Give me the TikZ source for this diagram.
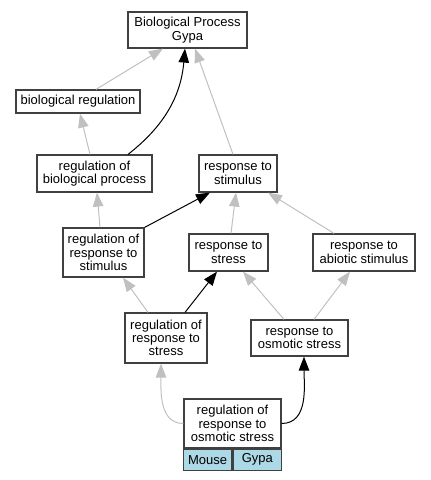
\documentclass[tikz,border=0pt]{standalone}
\usepackage{fontspec}
\setmainfont{Liberation Sans}
\usetikzlibrary{arrows.meta}
\definecolor{boxline}{HTML}{404040}
\definecolor{isagray}{HTML}{C0C0C0}
\definecolor{geneblue}{HTML}{ADD8E6}
\begin{document}
\begin{tikzpicture}[x=1pt,y=1pt,
    term/.style={draw=boxline,line width=1.2pt,fill=white,inner sep=0pt,align=center,
      font=\fontsize{13}{13.3}\selectfont},
    cell/.style={term,fill=geneblue,minimum width=48.5pt,minimum height=21pt},
    isa/.style={isagray,line width=1pt,-{Triangle[length=14pt,width=10.5pt]}},
    regarrow/.style={black,line width=1pt,-{Triangle[length=14pt,width=10.5pt]}}]
    % Frame
    \useasboundingbox (0,0) rectangle (431,-480);

    % Terms
    \node[term,minimum width=119pt,minimum height=36pt] (bp) at (187.5,-30) {Biological Process\\Gypa};
    \node[term,minimum width=124pt,minimum height=23pt] (bioreg) at (78,-101.5) {biological regulation};
    \node[term,minimum width=115pt,minimum height=37pt] (regbio) at (94.5,-173.5) {regulation of\\biological process};
    \node[term,minimum width=78pt,minimum height=37pt] (respstim) at (238,-173.5) {response to\\stimulus};
    \node[term,minimum width=81pt,minimum height=49pt] (regrespstim) at (103.5,-252.5) {regulation of\\response to\\stimulus};
    \node[term,minimum width=79pt,minimum height=37pt] (respstress) at (228.5,-252.5) {response to\\stress};
    \node[term,minimum width=102pt,minimum height=37pt] (respabiotic) at (364,-252.5) {response to\\abiotic stimulus};
    \node[term,minimum width=82pt,minimum height=50pt] (regrespstress) at (166,-338) {regulation of\\response to\\stress};
    \node[term,minimum width=97pt,minimum height=36pt] (resposmotic) at (299.5,-338) {response to\\osmotic stress};

    % Annotated term with its gene row
    \node[term,minimum width=97pt,minimum height=49pt] (regosmotic) at (232.5,-423.5) {regulation of\\response to\\osmotic stress};
    \node[cell,anchor=north east] (mouse) at (regosmotic.south) {Mouse};
    \node[cell,anchor=north west] (gypa) at (regosmotic.south) {Gypa};

    % is_a edges
    \draw[isa] ([xshift=18pt]bioreg.north) -- ([xshift=-24.5pt]bp.south);
    \draw[isa] ([xshift=-4.5pt]regbio.north) -- ([xshift=2pt]bioreg.south);
    \draw[isa] ([xshift=-5pt]respstim.north) -- ([xshift=7.5pt]bp.south);
    \draw[isa] ([xshift=-3.5pt]regrespstim.north) -- ([xshift=2.5pt]regbio.south);
    \draw[isa] ([xshift=2.5pt]respstress.north) -- ([xshift=-2pt]respstim.south);
    \draw[isa] ([xshift=-30pt]respabiotic.north) -- ([xshift=30pt]respstim.south);
    \draw[isa] ([xshift=-18pt]regrespstress.north) -- ([xshift=19.5pt]regrespstim.south);
    \draw[isa] ([xshift=-15.5pt]resposmotic.north) -- ([xshift=14.5pt]respstress.south);
    \draw[isa] ([xshift=14.5pt]resposmotic.north) -- ([xshift=-14pt]respabiotic.south);
    \draw[isa] (regosmotic.west) to[out=180,in=-90] ([xshift=-5pt]regrespstress.south);

    % regulates edges
    \draw[regarrow] ([xshift=33.5pt]regbio.north) to[out=38,in=-95] ([xshift=-2.5pt]bp.south);
    \draw[regarrow] (regrespstim.north east) -- ([xshift=-28pt]respstim.south);
    \draw[regarrow] ([xshift=19pt]regrespstress.north) -- ([xshift=-11.5pt]respstress.south);
    \draw[regarrow] (regosmotic.east) to[out=0,in=-90] ([xshift=4.5pt]resposmotic.south);
\end{tikzpicture}
\end{document}
